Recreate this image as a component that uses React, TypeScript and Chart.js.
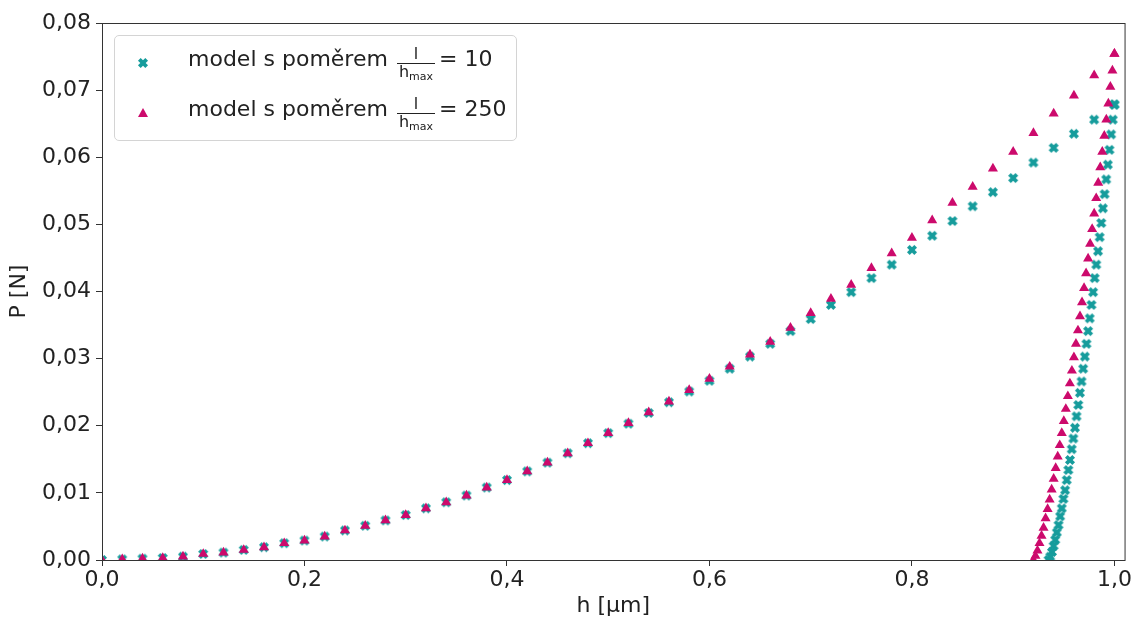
import React, { useEffect, useRef } from "react";
import { Chart, registerables } from "chart.js";

Chart.register(...registerables);

// ---- data ----
const loadH = [
  0, 0.02, 0.04, 0.06, 0.08, 0.1, 0.12, 0.14, 0.16, 0.18, 0.2, 0.22, 0.24, 0.26, 0.28, 0.3, 0.32, 0.34, 0.36, 0.38,
  0.4, 0.42, 0.44, 0.46, 0.48, 0.5, 0.52, 0.54, 0.56, 0.58, 0.6, 0.62, 0.64, 0.66, 0.68, 0.7, 0.72, 0.74, 0.76, 0.78,
  0.8, 0.82, 0.84, 0.86, 0.88, 0.9, 0.92, 0.94, 0.96, 0.98, 1.0,
];
const loadP10 = [
  0, 0.0001, 0.0002, 0.0003, 0.0005, 0.0009, 0.0011, 0.0015, 0.0019, 0.0025, 0.0029, 0.0035, 0.0044, 0.0051, 0.0059,
  0.0067, 0.0077, 0.0086, 0.0096, 0.0108, 0.0119, 0.0132, 0.0145, 0.0159, 0.0174, 0.0189, 0.0203, 0.0219, 0.0235,
  0.0251, 0.0267, 0.0285, 0.0303, 0.0322, 0.0341, 0.0359, 0.038, 0.0399, 0.042, 0.044, 0.0462, 0.0483, 0.0505, 0.0527,
  0.0548, 0.0569, 0.0592, 0.0614, 0.0635, 0.0656, 0.0678,
];
const loadP250 = [
  0, 0.0001, 0.0002, 0.0003, 0.0005, 0.0009, 0.0011, 0.0015, 0.0019, 0.0025, 0.0029, 0.0035, 0.0044, 0.0051, 0.0059,
  0.0067, 0.0077, 0.0086, 0.0096, 0.0108, 0.0119, 0.0132, 0.0145, 0.0159, 0.0174, 0.0189, 0.0204, 0.022, 0.0236,
  0.0253, 0.027, 0.0288, 0.0306, 0.0325, 0.0346, 0.0368, 0.0389, 0.041, 0.0435, 0.0457, 0.048, 0.0506, 0.0532, 0.0556,
  0.0583, 0.0608, 0.0636, 0.0665, 0.0692, 0.0722, 0.0754,
];
const unloadH10 = [
  1.0, 0.9984, 0.9968, 0.9951, 0.9935, 0.9919, 0.9903, 0.9886, 0.987, 0.9854, 0.9838, 0.9821, 0.9805, 0.9789, 0.9773,
  0.9756, 0.974, 0.9724, 0.9708, 0.9691, 0.9675, 0.9659, 0.9643, 0.9626, 0.961, 0.9594, 0.9578, 0.9561, 0.9545,
  0.9529, 0.9513, 0.9496, 0.948, 0.9464, 0.9448, 0.9431, 0.9415, 0.9399, 0.9383, 0.9366, 0.935,
];
const unloadP10 = [
  0.0679, 0.0656, 0.0634, 0.0611, 0.0589, 0.0567, 0.0545, 0.0524, 0.0502, 0.0481, 0.046, 0.044, 0.042, 0.0399, 0.038,
  0.036, 0.0341, 0.0322, 0.0303, 0.0285, 0.0266, 0.0249, 0.0231, 0.0214, 0.0197, 0.0181, 0.0165, 0.0149, 0.0134,
  0.0119, 0.0104, 0.0091, 0.0077, 0.0065, 0.0052, 0.0041, 0.003, 0.0021, 0.0012, 0.0005, 0,
];
const unloadH250 = [
  1.0, 0.998, 0.996, 0.994, 0.992, 0.99, 0.988, 0.986, 0.984, 0.982, 0.98, 0.978, 0.976, 0.974, 0.972, 0.97, 0.968,
  0.966, 0.964, 0.962, 0.96, 0.958, 0.956, 0.954, 0.952, 0.95, 0.948, 0.946, 0.944, 0.942, 0.94, 0.938, 0.936, 0.934,
  0.932, 0.93, 0.928, 0.926, 0.924, 0.922, 0.92,
];
const unloadP250 = [
  0.0754, 0.0729, 0.0705, 0.068, 0.0656, 0.0632, 0.0608, 0.0585, 0.0562, 0.0539, 0.0516, 0.0493, 0.0471, 0.0449,
  0.0427, 0.0405, 0.0384, 0.0363, 0.0342, 0.0322, 0.0302, 0.0282, 0.0263, 0.0244, 0.0225, 0.0207, 0.0189, 0.0171,
  0.0154, 0.0137, 0.0121, 0.0105, 0.009, 0.0076, 0.0062, 0.0048, 0.0036, 0.0025, 0.0014, 0.0006, 0,
];
const seriesNames = ["model s poměrem l/hmax = 10", "model s poměrem l/hmax = 250"];
const ratioValues = ["10", "250"];
const xTitle = "h [μm]";
const yTitle = "P [N]";

const CYAN = "#169c9c";
const MAGENTA = "#cc0a6c";
const FONT = "'DejaVu Sans', sans-serif";
const TEXT = "#222";

function toPoints(hs: number[], ps: number[]) {
  return hs.map((h, i) => ({ x: h, y: ps[i] }));
}

function makeXMarker(color: string, size: number) {
  const c = document.createElement("canvas");
  c.width = size;
  c.height = size;
  const ctx = c.getContext("2d")!;
  ctx.translate(size / 2, size / 2);
  ctx.rotate(Math.PI / 4);
  const a = 5.2;
  const b = 1.9;
  ctx.beginPath();
  ctx.moveTo(-b, -a);
  ctx.lineTo(b, -a);
  ctx.lineTo(b, -b);
  ctx.lineTo(a, -b);
  ctx.lineTo(a, b);
  ctx.lineTo(b, b);
  ctx.lineTo(b, a);
  ctx.lineTo(-b, a);
  ctx.lineTo(-b, b);
  ctx.lineTo(-a, b);
  ctx.lineTo(-a, -b);
  ctx.lineTo(-b, -b);
  ctx.closePath();
  ctx.fillStyle = color;
  ctx.fill();
  return c;
}

const framePlugin = {
  id: "frame",
  afterDraw(chart: any) {
    const { ctx, chartArea } = chart;
    ctx.save();
    ctx.strokeStyle = "#333";
    ctx.lineWidth = 1;
    ctx.strokeRect(chartArea.left + 0.5, chartArea.top + 0.5, chartArea.right - chartArea.left, chartArea.bottom - chartArea.top);
    ctx.restore();
  },
};

function XIcon({ color }: { color: string }) {
  return (
    <svg width="12" height="12" viewBox="-6 -6 12 12" style={{ display: "block" }}>
      <polygon
        transform="rotate(45)"
        fill={color}
        points="-1.9,-5.2 1.9,-5.2 1.9,-1.9 5.2,-1.9 5.2,1.9 1.9,1.9 1.9,5.2 -1.9,5.2 -1.9,1.9 -5.2,1.9 -5.2,-1.9 -1.9,-1.9"
      />
    </svg>
  );
}

function TriIcon({ color }: { color: string }) {
  return (
    <svg width="12" height="12" viewBox="-6 -6 12 12" style={{ display: "block" }}>
      <polygon fill={color} points="0,-5 5,4 -5,4" />
    </svg>
  );
}

function LegendRow({ top, value, icon }: { top: number; value: string; icon: React.ReactNode }) {
  const textStyle: React.CSSProperties = {
    position: "absolute",
    fontFamily: FONT,
    fontSize: 22,
    lineHeight: "26px",
    color: TEXT,
    whiteSpace: "nowrap",
  };
  const barY = top + 16.5;
  return (
    <>
      <div style={{ position: "absolute", left: 137, top: barY - 6 }}>{icon}</div>
      <span style={{ ...textStyle, left: 188, top: top }}>model s poměrem</span>
      <span
        style={{
          position: "absolute",
          left: 397,
          width: 38,
          top: barY - 17,
          textAlign: "center",
          fontFamily: FONT,
          fontSize: 16,
          lineHeight: "16px",
          color: TEXT,
        }}
      >
        l
      </span>
      <div style={{ position: "absolute", left: 397, top: barY, width: 38, height: 1, background: TEXT }} />
      <span
        style={{
          position: "absolute",
          left: 397,
          width: 38,
          top: barY + 1,
          textAlign: "center",
          fontFamily: FONT,
          fontSize: 16,
          lineHeight: "16px",
          color: TEXT,
          whiteSpace: "nowrap",
        }}
      >
        h<span style={{ fontSize: 11, position: "relative", top: 3 }}>max</span>
      </span>
      <span style={{ ...textStyle, left: 439, top: top }}>= {value}</span>
    </>
  );
}

export default function App() {
  const canvasRef = useRef<HTMLCanvasElement | null>(null);

  useEffect(() => {
    if (!canvasRef.current) return;
    const xMarker = makeXMarker(CYAN, 12);
    const chart = new Chart(canvasRef.current, {
      type: "scatter",
      data: {
        datasets: [
          {
            label: seriesNames[0],
            data: [...toPoints(loadH, loadP10), ...toPoints(unloadH10, unloadP10)],
            pointStyle: xMarker as any,
            pointRadius: 6,
            backgroundColor: CYAN,
            borderColor: CYAN,
            order: 1,
            clip: 0 as any,
          },
          {
            label: seriesNames[1],
            data: [...toPoints(loadH, loadP250), ...toPoints(unloadH250, unloadP250)],
            pointStyle: "triangle",
            pointRadius: 5.8,
            borderWidth: 0,
            backgroundColor: MAGENTA,
            borderColor: MAGENTA,
            order: 0,
            clip: 0 as any,
          },
        ],
      },
      options: {
        animation: false,
        responsive: true,
        maintainAspectRatio: false,
        layout: { padding: { top: 23, right: 8, left: 0, bottom: 0 } },
        plugins: { legend: { display: false }, tooltip: { enabled: false } },
        font: { family: FONT },
        scales: {
          x: {
            type: "linear",
            min: 0,
            max: 1.01,
            afterFit: (s: any) => {
              s.height = 61;
            },
            ticks: {
              stepSize: 0.2,
              includeBounds: false,
              maxRotation: 0,
              padding: 1,
              color: TEXT,
              font: { family: FONT, size: 22 },
              callback: (v: any) => Number(v).toFixed(1).replace(".", ","),
            },
            grid: { display: true, drawOnChartArea: false, drawTicks: true, tickLength: 6, color: "#333" },
            border: { display: false },
            title: {
              display: true,
              text: xTitle,
              color: TEXT,
              font: { family: FONT, size: 22 },
              padding: { top: 0, bottom: 2 },
            },
          },
          y: {
            type: "linear",
            min: 0,
            max: 0.08,
            afterFit: (s: any) => {
              s.width = 102;
            },
            ticks: {
              stepSize: 0.01,
              padding: 5,
              color: TEXT,
              font: { family: FONT, size: 22 },
              callback: (v: any) => Number(v).toFixed(2).replace(".", ","),
            },
            grid: { display: true, drawOnChartArea: false, drawTicks: true, tickLength: 6, color: "#333" },
            border: { display: false },
            title: {
              display: true,
              text: yTitle,
              color: TEXT,
              font: { family: FONT, size: 22 },
              padding: { top: 6, bottom: 0 },
            },
          },
        },
      },
      plugins: [framePlugin],
    });
    return () => chart.destroy();
  }, []);

  return (
    <div style={{ position: "fixed", left: 0, top: 0, width: 1133, height: 621, background: "#fff" }}>
      <canvas ref={canvasRef} />
      <div
        style={{
          position: "absolute",
          left: 114,
          top: 35,
          width: 403,
          height: 106,
          boxSizing: "border-box",
          border: "1px solid #d4d4d4",
          borderRadius: 5,
          background: "rgba(255,255,255,0.8)",
        }}
      />
      <LegendRow top={46} value={ratioValues[0]} icon={<XIcon color={CYAN} />} />
      <LegendRow top={96} value={ratioValues[1]} icon={<TriIcon color={MAGENTA} />} />
    </div>
  );
}
